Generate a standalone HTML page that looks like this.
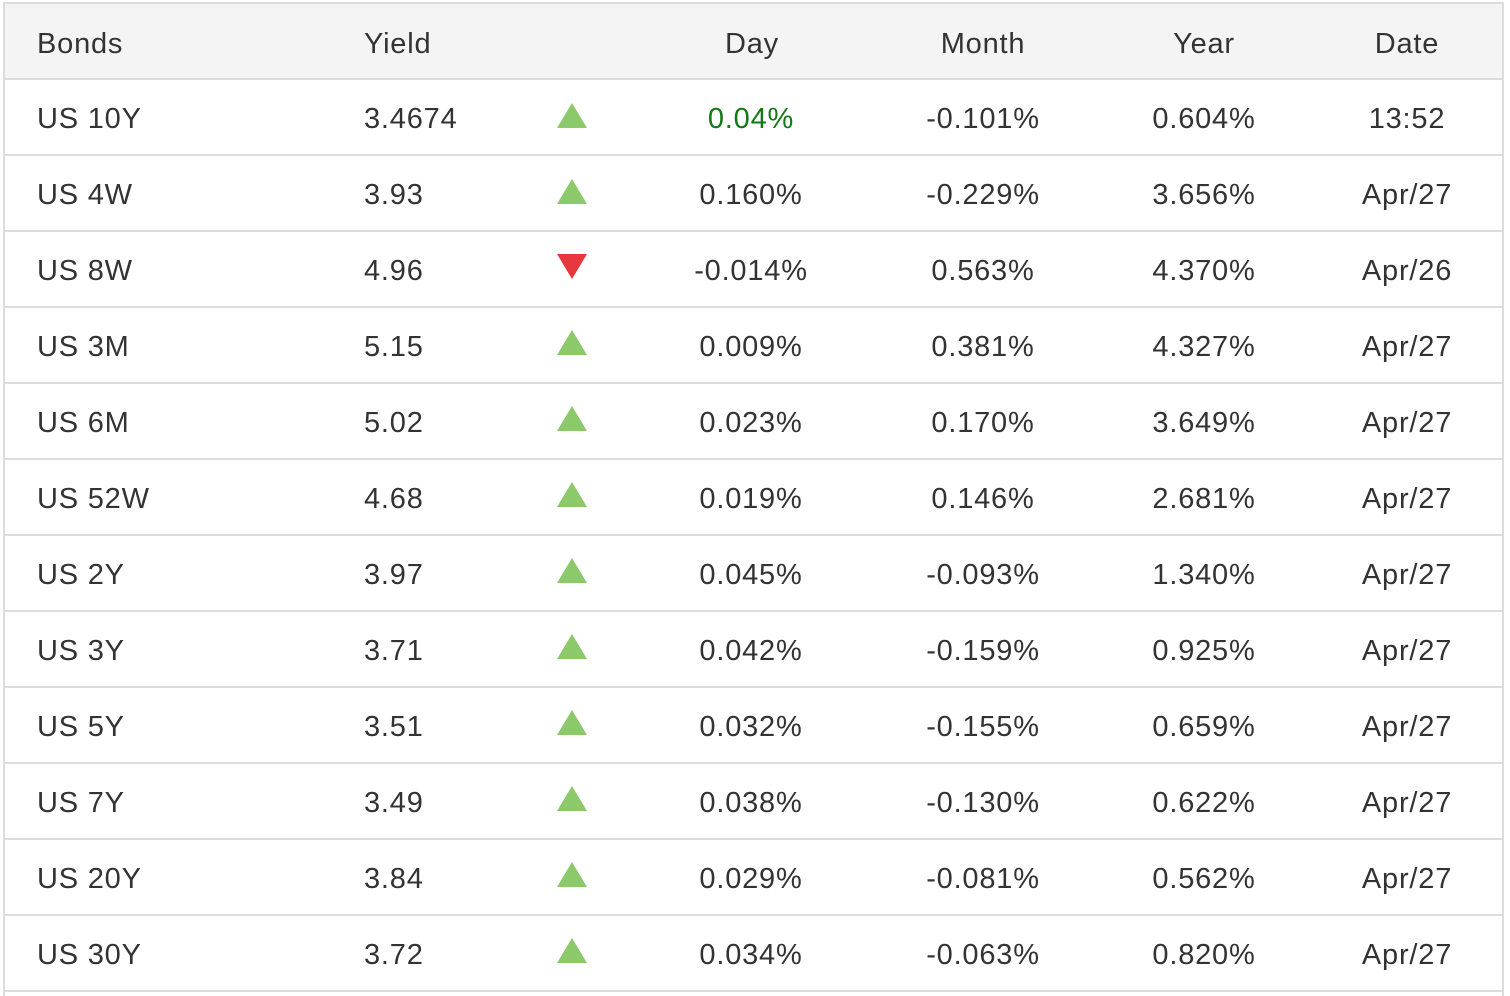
<!DOCTYPE html>
<html>
<head>
<meta charset="utf-8">
<style>
  html,body{margin:0;padding:0;background:#fff;}
  body{width:1510px;height:996px;position:relative;overflow:hidden;font-family:"Liberation Sans",Arial,sans-serif;color:#333;}
  .vb{position:absolute;top:2px;width:2px;height:994px;background:#dcdcdc;}
  .hl{position:absolute;left:3px;width:1501px;height:2px;background:#dcdcdc;}
  .hdr{position:absolute;left:5px;top:4px;width:1497px;height:74px;background:#f4f4f4;}
  .row{position:absolute;left:0;width:1510px;height:74px;}
  .c{position:absolute;top:1px;height:74px;line-height:74px;font-size:29px;letter-spacing:0.8px;white-space:nowrap;}
  .l{text-align:left;}
  .m{text-align:center;width:240px;}
  .tri{position:absolute;left:557px;width:30px;height:25px;}
</style>
</head>
<body>
<div class="hdr"></div>
<div class="hl" style="top:2px;"></div>
<div class="vb" style="left:3px;"></div>
<div class="vb" style="left:1502px;"></div>

<!-- header -->
<div class="row" style="top:6px;">
  <div class="c l" style="left:37px;">Bonds</div>
  <div class="c l" style="left:364px;">Yield</div>
  <div class="c m" style="left:632px;">Day</div>
  <div class="c m" style="left:863px;">Month</div>
  <div class="c m" style="left:1084px;">Year</div>
  <div class="c m" style="left:1287px;">Date</div>
</div>

<div class="hl" style="top:78px;"></div>
<div class="hl" style="top:154px;"></div>
<div class="hl" style="top:230px;"></div>
<div class="hl" style="top:306px;"></div>
<div class="hl" style="top:382px;"></div>
<div class="hl" style="top:458px;"></div>
<div class="hl" style="top:534px;"></div>
<div class="hl" style="top:610px;"></div>
<div class="hl" style="top:686px;"></div>
<div class="hl" style="top:762px;"></div>
<div class="hl" style="top:838px;"></div>
<div class="hl" style="top:914px;"></div>
<div class="hl" style="top:990px;"></div>

<!-- row 1 -->
<div class="row" style="top:81px;">
  <div class="c l" style="left:37px;">US 10Y</div>
  <div class="c l" style="left:364px;">3.4674</div>
  <svg class="tri" style="top:22px;" viewBox="0 0 30 25"><polygon points="15,0 30,25 0,25" fill="#8cc96a"/></svg>
  <div class="c m" style="left:631px;color:#137a13;">0.04%</div>
  <div class="c m" style="left:863px;">-0.101%</div>
  <div class="c m" style="left:1084px;">0.604%</div>
  <div class="c m" style="left:1287px;">13:52</div>
</div>

<div class="row" style="top:157px;">
  <div class="c l" style="left:37px;">US 4W</div>
  <div class="c l" style="left:364px;">3.93</div>
  <svg class="tri" style="top:22px;" viewBox="0 0 30 25"><polygon points="15,0 30,25 0,25" fill="#8cc96a"/></svg>
  <div class="c m" style="left:631px;">0.160%</div>
  <div class="c m" style="left:863px;">-0.229%</div>
  <div class="c m" style="left:1084px;">3.656%</div>
  <div class="c m" style="left:1287px;">Apr/27</div>
</div>

<div class="row" style="top:233px;">
  <div class="c l" style="left:37px;">US 8W</div>
  <div class="c l" style="left:364px;">4.96</div>
  <svg class="tri" style="top:21px;" viewBox="0 0 30 25"><polygon points="0,0 30,0 15,25" fill="#e8383d"/></svg>
  <div class="c m" style="left:631px;">-0.014%</div>
  <div class="c m" style="left:863px;">0.563%</div>
  <div class="c m" style="left:1084px;">4.370%</div>
  <div class="c m" style="left:1287px;">Apr/26</div>
</div>

<div class="row" style="top:309px;">
  <div class="c l" style="left:37px;">US 3M</div>
  <div class="c l" style="left:364px;">5.15</div>
  <svg class="tri" style="top:21px;" viewBox="0 0 30 25"><polygon points="15,0 30,25 0,25" fill="#8cc96a"/></svg>
  <div class="c m" style="left:631px;">0.009%</div>
  <div class="c m" style="left:863px;">0.381%</div>
  <div class="c m" style="left:1084px;">4.327%</div>
  <div class="c m" style="left:1287px;">Apr/27</div>
</div>

<div class="row" style="top:385px;">
  <div class="c l" style="left:37px;">US 6M</div>
  <div class="c l" style="left:364px;">5.02</div>
  <svg class="tri" style="top:21px;" viewBox="0 0 30 25"><polygon points="15,0 30,25 0,25" fill="#8cc96a"/></svg>
  <div class="c m" style="left:631px;">0.023%</div>
  <div class="c m" style="left:863px;">0.170%</div>
  <div class="c m" style="left:1084px;">3.649%</div>
  <div class="c m" style="left:1287px;">Apr/27</div>
</div>

<div class="row" style="top:461px;">
  <div class="c l" style="left:37px;">US 52W</div>
  <div class="c l" style="left:364px;">4.68</div>
  <svg class="tri" style="top:21px;" viewBox="0 0 30 25"><polygon points="15,0 30,25 0,25" fill="#8cc96a"/></svg>
  <div class="c m" style="left:631px;">0.019%</div>
  <div class="c m" style="left:863px;">0.146%</div>
  <div class="c m" style="left:1084px;">2.681%</div>
  <div class="c m" style="left:1287px;">Apr/27</div>
</div>

<div class="row" style="top:537px;">
  <div class="c l" style="left:37px;">US 2Y</div>
  <div class="c l" style="left:364px;">3.97</div>
  <svg class="tri" style="top:21px;" viewBox="0 0 30 25"><polygon points="15,0 30,25 0,25" fill="#8cc96a"/></svg>
  <div class="c m" style="left:631px;">0.045%</div>
  <div class="c m" style="left:863px;">-0.093%</div>
  <div class="c m" style="left:1084px;">1.340%</div>
  <div class="c m" style="left:1287px;">Apr/27</div>
</div>

<div class="row" style="top:613px;">
  <div class="c l" style="left:37px;">US 3Y</div>
  <div class="c l" style="left:364px;">3.71</div>
  <svg class="tri" style="top:21px;" viewBox="0 0 30 25"><polygon points="15,0 30,25 0,25" fill="#8cc96a"/></svg>
  <div class="c m" style="left:631px;">0.042%</div>
  <div class="c m" style="left:863px;">-0.159%</div>
  <div class="c m" style="left:1084px;">0.925%</div>
  <div class="c m" style="left:1287px;">Apr/27</div>
</div>

<div class="row" style="top:689px;">
  <div class="c l" style="left:37px;">US 5Y</div>
  <div class="c l" style="left:364px;">3.51</div>
  <svg class="tri" style="top:21px;" viewBox="0 0 30 25"><polygon points="15,0 30,25 0,25" fill="#8cc96a"/></svg>
  <div class="c m" style="left:631px;">0.032%</div>
  <div class="c m" style="left:863px;">-0.155%</div>
  <div class="c m" style="left:1084px;">0.659%</div>
  <div class="c m" style="left:1287px;">Apr/27</div>
</div>

<div class="row" style="top:765px;">
  <div class="c l" style="left:37px;">US 7Y</div>
  <div class="c l" style="left:364px;">3.49</div>
  <svg class="tri" style="top:21px;" viewBox="0 0 30 25"><polygon points="15,0 30,25 0,25" fill="#8cc96a"/></svg>
  <div class="c m" style="left:631px;">0.038%</div>
  <div class="c m" style="left:863px;">-0.130%</div>
  <div class="c m" style="left:1084px;">0.622%</div>
  <div class="c m" style="left:1287px;">Apr/27</div>
</div>

<div class="row" style="top:841px;">
  <div class="c l" style="left:37px;">US 20Y</div>
  <div class="c l" style="left:364px;">3.84</div>
  <svg class="tri" style="top:21px;" viewBox="0 0 30 25"><polygon points="15,0 30,25 0,25" fill="#8cc96a"/></svg>
  <div class="c m" style="left:631px;">0.029%</div>
  <div class="c m" style="left:863px;">-0.081%</div>
  <div class="c m" style="left:1084px;">0.562%</div>
  <div class="c m" style="left:1287px;">Apr/27</div>
</div>

<div class="row" style="top:917px;">
  <div class="c l" style="left:37px;">US 30Y</div>
  <div class="c l" style="left:364px;">3.72</div>
  <svg class="tri" style="top:21px;" viewBox="0 0 30 25"><polygon points="15,0 30,25 0,25" fill="#8cc96a"/></svg>
  <div class="c m" style="left:631px;">0.034%</div>
  <div class="c m" style="left:863px;">-0.063%</div>
  <div class="c m" style="left:1084px;">0.820%</div>
  <div class="c m" style="left:1287px;">Apr/27</div>
</div>
</body>
</html>
